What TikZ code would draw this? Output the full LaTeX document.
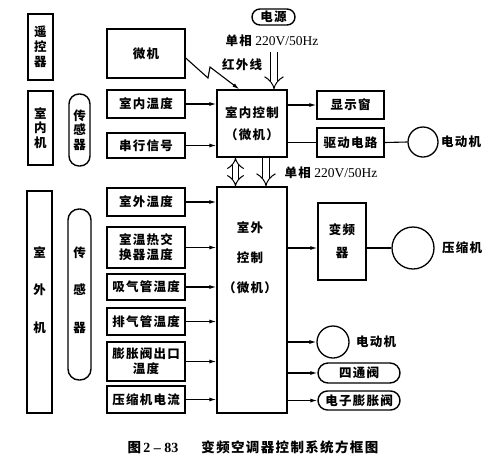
\documentclass[tikz,border=0pt]{standalone}
\usepackage{fontspec}
\setmainfont{Liberation Serif}
\newfontfamily\cjk{Noto Sans CJK SC}[LetterSpace=10]
\usetikzlibrary{arrows.meta,calc}
\newcommand{\cf}[2]{\cjk\bfseries\fontsize{#1}{#2}\selectfont}
\newcommand{\lat}{\rmfamily\fontsize{13.5}{15}\selectfont}
\tikzset{
  box/.style={draw, line width=1.4pt, inner sep=0pt, align=center, font=\cf{12.5}{15}},
  rbox/.style={box, rounded corners=#1},
  arr/.style={line width=1.1pt, -{Latex[length=7pt,width=4pt]}},
  conn/.style={line width=1.1pt},
  dbl/.style={double, double distance=6pt, line width=1pt, -{Implies}},
  dbltwo/.style={double, double distance=5pt, line width=1pt, {Implies}-{Implies}},
  lbl/.style={inner sep=0pt, font=\cf{12.5}{15}},
  vlbl/.style={inner sep=0pt, font=\lat},
}
\begin{document}
\begin{tikzpicture}[x=1pt,y=-1pt]
\useasboundingbox (0,0) rectangle (501,475);
% indoor left column
\node[box, minimum width=25, minimum height=66] (rc) at (40.5,47) {遥\\控\\器};
\node[box, minimum width=25, minimum height=74, font=\cf{12.5}{14.5}] (inm) at (40.5,128) {室\\内\\机};
\node[rbox=10pt, minimum width=21, minimum height=72, font=\cf{12.5}{14.5}] (ins) at (79.5,130) {传\\感\\器};
\node[box, minimum width=78, minimum height=49] (mc) at (146,53.5) {微机};
\node[box, minimum width=78, minimum height=28] (t1) at (146,104) {室内温度};
\node[box, minimum width=78, minimum height=25] (t2) at (146,145.5) {串行信号};
\node[box, minimum width=70, minimum height=67, font=\cf{12.5}{22}] (ic) at (252,123.5) {室内控制\\（微机）};
\node[box, minimum width=67, minimum height=28] (disp) at (350.5,105) {显示窗};
\node[box, minimum width=67, minimum height=29] (drv) at (350.5,142.5) {驱动电路};
\node[draw, circle, line width=1.3pt, minimum size=30, inner sep=0pt] (m1) at (423,142) {};
\node[lbl] (m1l) at (461,142) {电动机};
\node[rbox=8pt, minimum width=43, minimum height=16] (pw) at (273.5,17) {电源};
\node[vlbl] (v1) at (272,41) {{\cf{12.5}{15}单相} 220V/50Hz};
\node[lbl] (ir) at (242,65) {红外线};
% outdoor
\node[box, minimum width=25, minimum height=222] (om) at (39.5,302) {};
\node[lbl, align=center, font=\cf{12.5}{37.5}] (oml) at (39.5,290) {室\\外\\机};
\node[rbox=11pt, minimum width=23, minimum height=171] (os) at (79.5,294.5) {};
\node[lbl, align=center, font=\cf{12.5}{37.5}] (osl) at (79.5,290) {传\\感\\器};
\node[box, minimum width=78, minimum height=28] (s1) at (146,202) {室外温度};
\node[box, minimum width=78, minimum height=41] (s2) at (146,247.5) {室温热交\\换器温度};
\node[box, minimum width=78, minimum height=26] (s3) at (146,287) {吸气管温度};
\node[box, minimum width=78, minimum height=27] (s4) at (146,321.5) {排气管温度};
\node[box, minimum width=78, minimum height=39] (s5) at (146,361.5) {膨胀阀出口\\温度};
\node[box, minimum width=78, minimum height=27] (s6) at (146,399.5) {压缩机电流};
\node[box, minimum width=70, minimum height=226] (oc) at (252,300) {};
\node[lbl, align=center, font=\cf{12.5}{30}] (ocl) at (250,258) {室外\\控制\\（微机）};
\node[box, minimum width=48, minimum height=77, font=\cf{12.5}{23}] (inv) at (342,241.5) {变频\\器};
\node[draw, circle, line width=1.3pt, minimum size=42, inner sep=0pt] (comp) at (413,248) {};
\node[lbl] (compl) at (462,248) {压缩机};
\node[draw, circle, line width=1.3pt, minimum size=32, inner sep=0pt] (m2) at (333,342) {};
\node[lbl] (m2l) at (376,342) {电动机};
\node[rbox=10pt, minimum width=82, minimum height=20] (fv) at (359,373) {四通阀};
\node[rbox=9.5pt, minimum width=82, minimum height=19] (ev) at (359,400.5) {电子膨胀阀};
\node[vlbl] (v2) at (331,173) {{\cf{12.5}{15}单相} 220V/50Hz};
\node[inner sep=0pt, font=\cf{13.5}{15}] (cap) at (253,447) {图\,{\rmfamily\bfseries\fontsize{14}{15}\selectfont 2 – 83}\hspace{1.7em}变频空调器控制系统方框图};
% connectors indoor
\coordinate (z0) at ($(mc.east)+(0,4.5)$);
\coordinate (z1) at (208,78);
\coordinate (z2) at (210,67);
\coordinate (z3) at ($(ic.north west)+(23,0)$);
\draw[arr] (z0) -- (z1) -- (z2) -- (z3);
\coordinate (pa) at (274,52);
\draw[dbl] (pa) -- (pa |- ic.north);
\draw[arr] (t1.east) -- (ic.west |- t1.east);
\draw[arr] (t2.east) -- (ic.west |- t2.east);
\draw[arr] (ic.east |- disp.west) -- (disp.west);
\draw[conn] (ic.east |- drv.west) -- (drv.west);
\draw[conn] (drv.east) -- (m1.west);
\coordinate (ta) at (235.5,0);
\coordinate (tb) at (266,0);
\draw[dbltwo] (ta |- ic.south) -- (ta |- oc.north);
\draw[dbl] (tb |- ic.south) -- (tb |- oc.north);
% connectors outdoor
\foreach \s in {s1,s2,s3,s4,s5,s6} \draw[arr] (\s.east) -- (oc.west |- \s.east);
\draw[arr] (oc.east |- comp) -- (inv.west |- comp);
\draw[conn] (inv.east |- comp) -- (comp.west);
\draw[arr] (oc.east |- m2) -- (m2.west);
\draw[arr] (oc.east |- fv.west) -- (fv.west);
\draw[arr] (oc.east |- ev.west) -- (ev.west);
\end{tikzpicture}
\end{document}
